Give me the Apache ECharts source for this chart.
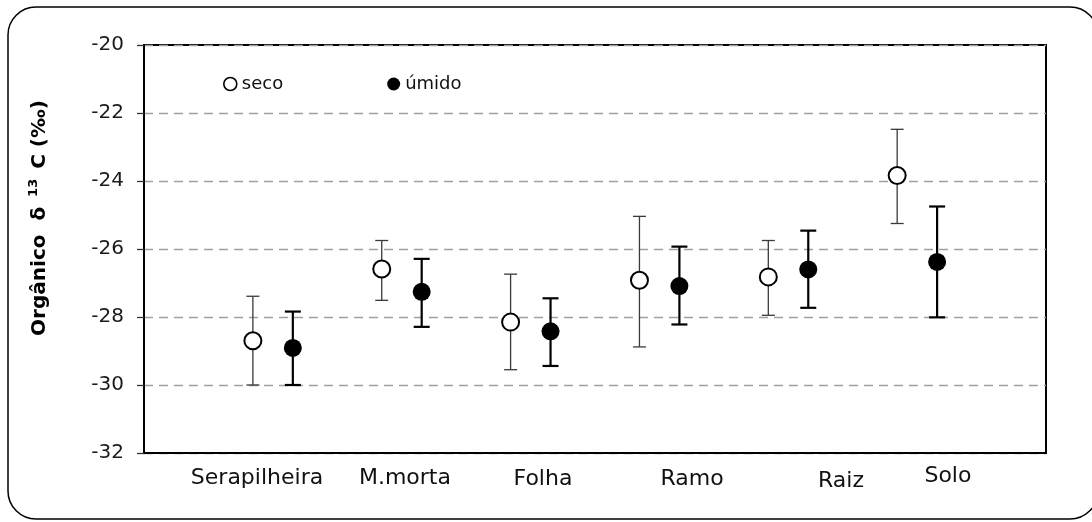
<!DOCTYPE html>
<html>
<head>
<meta charset="utf-8">
<script src="https://cdn.jsdelivr.net/npm/echarts@6/dist/echarts.min.js"></script>
<style>
  html, body { margin: 0; padding: 0; background: #fff; }
  #chart { width: 1092px; height: 522px; }
</style>
</head>
<body>
<div id="chart"></div>
<script>
// Organic δ13C by compartment, dry (seco) vs wet (úmido) season: mean with min/max bars
const categories = ['Serapilheira', 'M.morta', 'Folha', 'Ramo', 'Raiz', 'Solo'];
const categoryPos = [1, 2, 3, 4, 5, 6];

const secoMean = [-28.70, -26.59, -28.15, -26.92, -26.82, -23.84];
const secoLow  = [-30.00, -27.51, -29.55, -28.88, -27.95, -25.25];
const secoHigh = [-27.39, -25.75, -26.74, -25.04, -25.75, -22.48];

const umidoMean = [-28.91, -27.26, -28.42, -27.09, -26.60, -26.38];
const umidoLow  = [-30.00, -28.29, -29.44, -28.22, -27.73, -28.01];
const umidoHigh = [-27.84, -26.29, -27.45, -25.93, -25.46, -24.75];

const yTicks = [-32, -30, -28, -26, -24, -22, -20];

// layout: horizontal shift of each season from the category position,
// and where the category captions sit on the x scale
const pairShift = 0.155;
const captionAt = [0.877, 2.025, 3.096, 4.253, 5.409, 6.239];
const captionDrop = [25, 25, 26, 26, 28, 23];

const FONT = 'DejaVu Sans';

const secoPts = categoryPos.map((p, i) => [p - pairShift, secoMean[i]]);
const umidoPts = categoryPos.map((p, i) => [p + pairShift, umidoMean[i]]);
const secoBars = categoryPos.map((p, i) => [p - pairShift, secoLow[i], secoHigh[i]]);
const umidoBars = categoryPos.map((p, i) => [p + pairShift, umidoLow[i], umidoHigh[i]]);

function errorBars(capHalf, width, color) {
  return function (params, api) {
    const x = api.value(0);
    const lo = api.coord([x, api.value(1)]);
    const hi = api.coord([x, api.value(2)]);
    const style = { stroke: color, lineWidth: width, fill: null };
    return {
      type: 'group',
      children: [
        { type: 'line', shape: { x1: lo[0], y1: lo[1], x2: hi[0], y2: hi[1] }, style: style },
        { type: 'line', shape: { x1: lo[0] - capHalf, y1: lo[1], x2: lo[0] + capHalf, y2: lo[1] }, style: style },
        { type: 'line', shape: { x1: hi[0] - capHalf, y1: hi[1], x2: hi[0] + capHalf, y2: hi[1] }, style: style }
      ]
    };
  };
}

const chart = echarts.init(document.getElementById('chart'), null, { renderer: 'canvas' });

const option = {
  animation: false,
  backgroundColor: '#fff',
  grid: {
    left: 144, right: 46, top: 45, bottom: 69,
    show: true, borderColor: '#000', borderWidth: 2, backgroundColor: 'transparent'
  },
  legend: {
    left: 218, top: 70,
    itemWidth: 13, itemHeight: 13, itemGap: 104,
    textStyle: { fontFamily: FONT, fontSize: 18, color: '#111' },
    data: [
      { name: 'seco', icon: 'circle', itemStyle: { color: '#fff', borderColor: '#000', borderWidth: 1.6 } },
      { name: 'úmido', icon: 'circle', itemStyle: { color: '#000', borderColor: '#000', borderWidth: 0 } }
    ],
    selectedMode: false
  },
  xAxis: {
    type: 'value', min: 0, max: 7,
    axisLine: { show: true, lineStyle: { color: '#000', width: 2 } },
    axisTick: { show: false },
    axisLabel: { show: false },
    splitLine: { show: false }
  },
  yAxis: {
    type: 'value', min: yTicks[0], max: yTicks[yTicks.length - 1], interval: 2,
    axisLine: { show: true, lineStyle: { color: '#000', width: 2 } },
    axisTick: { show: true, inside: false, length: 7, lineStyle: { color: '#333', width: 1.3 } },
    axisLabel: {
      margin: 20, fontFamily: FONT, fontSize: 20, color: '#1a1a1a',
      formatter: v => yTicks.includes(v) ? String(v) : ''
    },
    splitLine: { show: true, lineStyle: { color: '#a0a0a0', width: 1.4, type: [9, 6] } }
  },
  series: [
    {
      name: 'seco-err', type: 'custom', data: secoBars, z: 2,
      renderItem: errorBars(6.5, 1.3, '#3a3a3a'), silent: true
    },
    {
      name: 'úmido-err', type: 'custom', data: umidoBars, z: 2,
      renderItem: errorBars(8, 2.2, '#000'), silent: true
    },
    {
      name: 'seco', type: 'scatter', data: secoPts, z: 5,
      symbol: 'circle', symbolSize: 17,
      itemStyle: { color: '#fff', borderColor: '#000', borderWidth: 2, opacity: 1 }
    },
    {
      name: 'úmido', type: 'scatter', data: umidoPts, z: 5,
      symbol: 'circle', symbolSize: 18,
      itemStyle: { color: '#000', opacity: 1 }
    }
  ]
};

chart.setOption(option);

// category captions under the plot, positioned on the x scale
const captions = categories.map((name, i) => {
  const p = chart.convertToPixel({ xAxisIndex: 0, yAxisIndex: 0 }, [captionAt[i], yTicks[0]]);
  return {
    type: 'text', id: 'cap' + i, x: p[0], y: p[1] + captionDrop[i],
    style: { text: name, fontFamily: FONT, fontSize: 22, fill: '#111', align: 'center', verticalAlign: 'middle' }
  };
});

chart.setOption({
  graphic: [
    {
      type: 'rect', id: 'frame', z: -1,
      shape: { x: 8, y: 7, width: 1090, height: 512, r: 28 },
      style: { fill: null, stroke: '#000', lineWidth: 1.5 }
    },
    {
      type: 'text', id: 'ytitle', x: 40, y: 218, rotation: Math.PI / 2,
      style: {
        text: '{b|Orgânico  δ }{s|13}{b| C (‰)}',
        align: 'center', verticalAlign: 'middle',
        rich: {
          b: { fontFamily: FONT, fontSize: 20, fontWeight: 'bold', fill: '#000', lineHeight: 26 },
          s: { fontFamily: FONT, fontSize: 13, fontWeight: 'bold', fill: '#000', lineHeight: 26, verticalAlign: 'top', padding: [0, 3, 0, 3] }
        }
      }
    }
  ].concat(captions)
});
</script>
</body>
</html>
